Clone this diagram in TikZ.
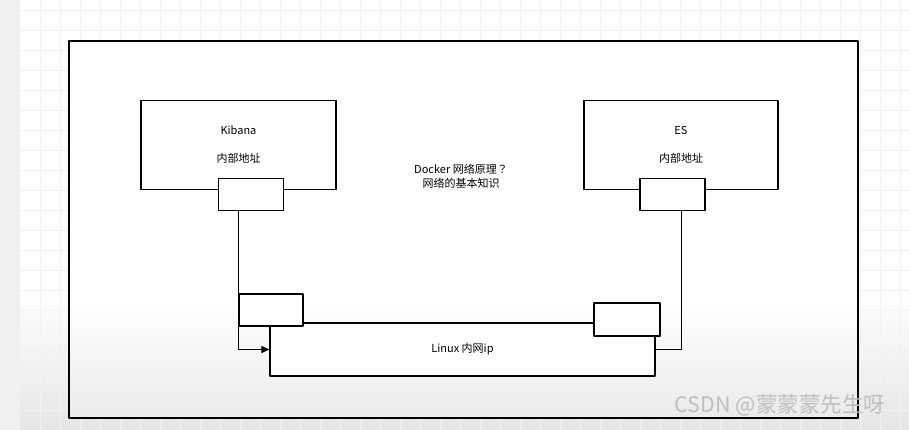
\documentclass[tikz,border=0pt]{standalone}
\usepackage{fontspec}
\setmainfont{Noto Sans CJK SC}
\newfontfamily\cjktc{Noto Sans CJK TC}
\usetikzlibrary{arrows.meta}
\begin{document}
\begin{tikzpicture}[x=1pt, y=-1pt, line join=round,
    box/.style={draw, line width=1.2pt, fill=white, inner sep=0pt, align=center},
    port/.style={box, minimum width=65, minimum height=32},
    gridline/.style={gray!10, line width=0.4pt},
    wire/.style={line width=1pt}]
      \useasboundingbox (0,0) rectangle (909,430);
      % background
      \fill[white] (0,0) rectangle (909,430);
      \fill[top color=white, bottom color=gray!20] (0,290) rectangle (909,430);
      \fill[gray!12] (0,0) rectangle (20,430);
      \foreach \gx in {40,60,...,900} \draw[gridline] (\gx,0) -- (\gx,430);
      \foreach \gy in {10,30,...,430} \draw[gridline] (20,\gy) -- (909,\gy);

      % outer frame
      \fill[white] (69,41) rectangle (858,300);
      \fill[top color=white, bottom color=gray!16] (69,300) rectangle (858,418);
      \draw[line width=1.7pt] (69,41) rectangle (858,418);

      % containers
      \node[box, minimum width=195, minimum height=89, font=\fontsize{11}{28}\selectfont] (kibana) at (238.5,145) {Kibana\\内部地址};
      \node[port] (kport) at (251,194.5) {};
      \node[box, minimum width=194, minimum height=89, font=\fontsize{11}{28}\selectfont] (es) at (681,145) {ES\\内部地址};
      \node[port] (esport) at (672.5,194.5) {};

      \node[align=center, font=\fontsize{11}{14}\selectfont] (title) at (461,176.5) {Docker 网络原理{\cjktc ？}\\网络的基本知识};

      % host network
      \node[box, minimum width=385, minimum height=53, font=\fontsize{11}{14}\selectfont] (linux) at (462.5,349.5) {Linux 内网ip};
      \node[port, minimum width=64] (lveth) at (271,310) {};
      \node[port, minimum width=66, minimum height=33] (rveth) at (627,319.5) {};

      \draw[wire, -{Triangle[length=8pt,width=7pt]}] (kport.south -| lveth.west) |- (linux.west);
      \draw[wire] (esport.south -| es.south) |- (linux.east);

      \node[text=gray!50, font=\fontsize{21.5}{24}\selectfont] (mark) at (780,405) {CSDN @蒙蒙蒙先生呀};
\end{tikzpicture}
\end{document}
